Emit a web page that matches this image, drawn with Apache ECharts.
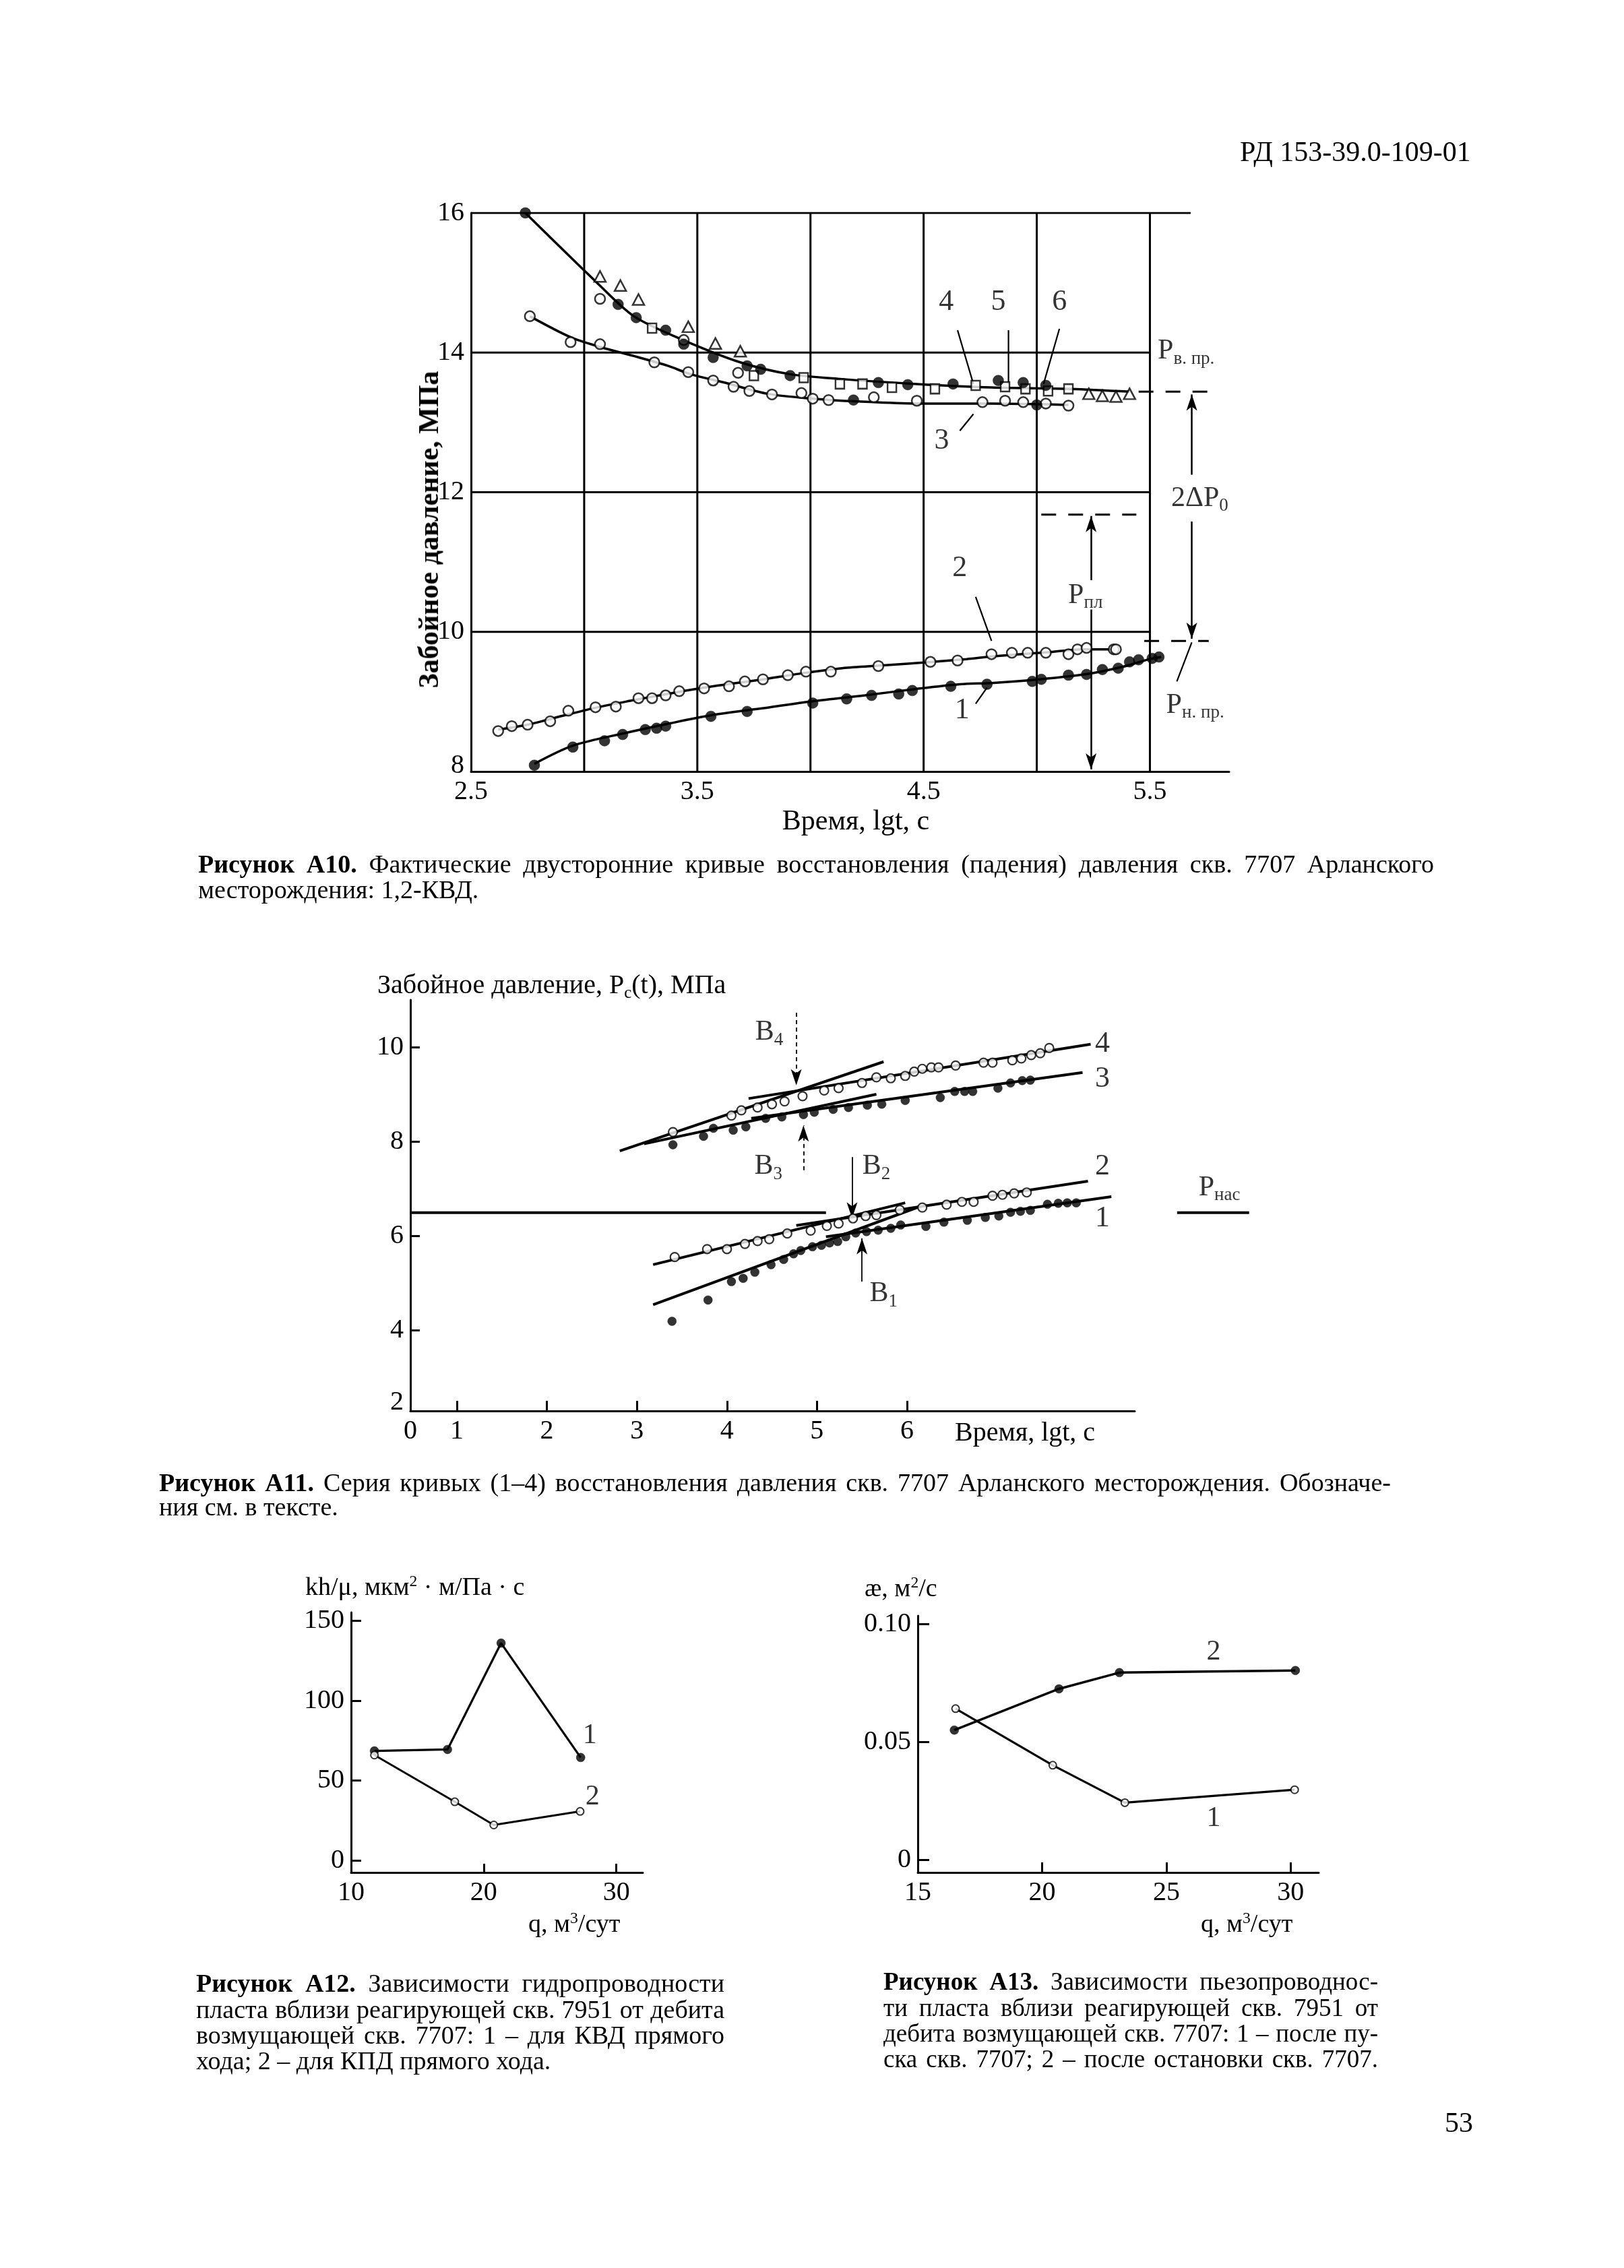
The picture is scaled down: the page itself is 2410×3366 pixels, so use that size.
<!DOCTYPE html>
<html lang="ru">
<head>
<meta charset="utf-8">
<title>РД 153-39.0-109-01 — Рисунки А10–А13</title>
<script src="https://cdn.jsdelivr.net/npm/echarts@6.0.0/dist/echarts.min.js"></script>
<style>
html,body{margin:0;padding:0;background:#fff;}
#page{position:relative;width:2410px;height:3366px;overflow:hidden;background:#fff;}
#chart{position:absolute;left:0;top:0;width:2410px;height:3366px;}
.t{position:absolute;font-family:"Liberation Serif","Times New Roman",serif;color:#000;white-space:nowrap;line-height:1;}
.c{transform:translate(-50%,-50%);}
.l{transform:translateY(-50%);}
.j{white-space:normal;text-align:justify;text-align-last:justify;}
.cap{font-size:38px;}
.cap2{font-size:37px;}
.nw{white-space:nowrap;}
sub,sup{font-size:0.62em;line-height:0;}
sub{vertical-align:-0.3em;}
sup{vertical-align:0.55em;}
</style>
</head>
<body>
<div id="page">
<div id="chart"></div>

<div class="t l" style="left:1840px;top:225px;font-size:42px">РД 153-39.0-109-01</div>

<div class="t c" style="left:636px;top:786px;font-size:42px;font-weight:bold;transform:translate(-50%,-50%) rotate(-90deg)">Забойное давление, МПа</div>
<div class="t c" style="left:1270px;top:1217px;font-size:42px">Время, lgt, с</div>

<div class="t l cap j" style="left:294px;top:1282px;width:1834px"><b>Рисунок А10.</b> Фактические двусторонние кривые восстановления (падения) давления скв. 7707 Арланского</div>
<div class="t l cap" style="left:294px;top:1320px">месторождения: 1,2-КВД.</div>

<div class="t l" style="left:560px;top:1461px;font-size:40px">Забойное давление, P<sub>c</sub>(t), МПа</div>
<div class="t l" style="left:1417px;top:2125px;font-size:40px">Время, lgt, с</div>

<div class="t l cap j" style="left:236px;top:2200px;width:1828px"><b>Рисунок А11.</b> Серия кривых (1–4) восстановления давления скв. 7707 Арланского месторождения. <span class="nw">Обозначе-</span></div>
<div class="t l cap" style="left:236px;top:2236px">ния см. в тексте.</div>

<div class="t l" style="left:453px;top:2354px;font-size:38px">kh/μ, мкм<sup>2</sup> · м/Па · с</div>
<div class="t l" style="left:784px;top:2854px;font-size:38px">q, м<sup>3</sup>/сут</div>
<div class="t l" style="left:1283px;top:2356px;font-size:38px">æ, м<sup>2</sup>/с</div>
<div class="t l" style="left:1782px;top:2854px;font-size:38px">q, м<sup>3</sup>/сут</div>

<div class="t l cap j" style="left:291px;top:2943px;width:784px"><b>Рисунок А12.</b> Зависимости гидропроводности</div>
<div class="t l cap j" style="left:291px;top:2982px;width:784px">пласта вблизи реагирующей скв. 7951 от дебита</div>
<div class="t l cap j" style="left:291px;top:3020px;width:784px">возмущающей скв. 7707: 1 – для КВД прямого</div>
<div class="t l cap" style="left:291px;top:3058px">хода; 2 – для КПД прямого хода.</div>

<div class="t l cap2 j" style="left:1311px;top:2940px;width:734px"><b>Рисунок А13.</b> Зависимости <span class="nw">пьезопроводнос-</span></div>
<div class="t l cap2 j" style="left:1311px;top:2979px;width:734px">ти пласта вблизи реагирующей скв. 7951 от</div>
<div class="t l cap2 j" style="left:1311px;top:3017px;width:734px">дебита возмущающей скв. 7707: 1 – после <span class="nw">пу-</span></div>
<div class="t l cap2 j" style="left:1311px;top:3055px;width:734px">ска скв. 7707; 2 – после остановки скв. 7707.</div>

<div class="t l" style="left:2144px;top:3150px;font-size:42px">53</div>
</div>

<script>
// ================= DATA =================
// ---- Рисунок А10 ----
const a10XLabels = [2.5, 3.5, 4.5, 5.5];
const a10YLabels = [8.08, 10, 12, 14, 16];
const a10GridX = [3.0, 3.5, 4.0, 4.5, 5.0, 5.5];
const a10GridY = [10, 12, 14];

// curve 1 (filled circles, lower)
const a10Filled1 = [[2.78,8.09],[2.95,8.35],[3.09,8.44],[3.17,8.53],[3.27,8.60],[3.32,8.62],[3.36,8.65],[3.56,8.79],[3.72,8.86],[4.01,8.98],[4.16,9.04],[4.27,9.09],[4.39,9.11],[4.45,9.16],[4.62,9.22],[4.78,9.25],[4.98,9.29],[5.02,9.32],[5.14,9.38],[5.22,9.39],[5.29,9.46],[5.36,9.48],[5.41,9.57],[5.45,9.60],[5.51,9.62],[5.54,9.64]];
const a10Line1 = [[2.78,8.11],[2.95,8.37],[3.18,8.55],[3.38,8.69],[3.57,8.81],[3.82,8.92],[4.02,9.01],[4.24,9.09],[4.46,9.18],[4.66,9.25],[4.81,9.27],[5.01,9.32],[5.23,9.40],[5.38,9.50],[5.50,9.61],[5.55,9.64]];
// curve 2 (open circles, lower)
const a10Open2 = [[2.62,8.58],[2.68,8.65],[2.75,8.67],[2.85,8.72],[2.93,8.87],[3.05,8.92],[3.14,8.93],[3.24,9.05],[3.30,9.05],[3.36,9.09],[3.42,9.15],[3.53,9.19],[3.64,9.22],[3.71,9.29],[3.79,9.32],[3.90,9.38],[3.98,9.43],[4.09,9.43],[4.30,9.51],[4.53,9.57],[4.65,9.59],[4.80,9.68],[4.89,9.70],[4.96,9.70],[5.04,9.70],[5.14,9.68],[5.18,9.75],[5.22,9.77],[5.34,9.75],[5.35,9.75]];
const a10Line2 = [[2.62,8.60],[2.75,8.67],[2.92,8.81],[3.06,8.92],[3.20,9.01],[3.40,9.13],[3.57,9.22],[3.77,9.31],[3.97,9.41],[4.14,9.48],[4.32,9.52],[4.54,9.57],[4.69,9.61],[4.81,9.65],[5.06,9.71],[5.20,9.75],[5.35,9.75]];
// curve 3 (open circles, upper)
const a10Open3 = [[2.76,14.52],[2.94,14.15],[3.07,14.12],[3.31,13.86],[3.46,13.72],[3.57,13.60],[3.66,13.51],[3.73,13.45],[3.83,13.40],[3.96,13.42],[4.01,13.34],[4.08,13.32],[4.28,13.36],[4.47,13.31],[4.76,13.29],[4.86,13.31],[4.94,13.29],[5.04,13.27],[5.14,13.24],[3.07,14.77],[3.44,14.18],[3.68,13.71]];
const a10Line3 = [[2.76,14.52],[2.94,14.22],[3.07,14.08],[3.22,13.95],[3.37,13.81],[3.47,13.69],[3.62,13.57],[3.81,13.41],[4.01,13.34],[4.21,13.30],[4.47,13.27],[4.80,13.27],[5.05,13.26],[5.14,13.25]];
// curves 4-6 (upper: filled circles, squares, triangles)
const a10FilledUp = [[2.74,16.0],[3.15,14.69],[3.23,14.50],[3.36,14.32],[3.44,14.12],[3.57,13.93],[3.72,13.81],[3.78,13.76],[3.91,13.67],[4.19,13.32],[4.30,13.57],[4.43,13.54],[4.63,13.55],[4.83,13.60],[4.94,13.57],[5.00,13.25],[5.04,13.53]];
const a10Squares = [[3.30,14.35],[3.75,13.67],[3.97,13.64],[4.13,13.55],[4.23,13.55],[4.36,13.50],[4.55,13.48],[4.73,13.53],[4.86,13.51],[4.95,13.48],[5.05,13.45],[5.14,13.48]];
const a10Triangles = [[3.07,15.09],[3.16,14.96],[3.24,14.76],[3.46,14.37],[3.58,14.13],[3.69,14.02],[5.23,13.41],[5.29,13.38],[5.35,13.37],[5.41,13.41]];
const a10LineUpper = [[2.74,16.0],[3.06,14.99],[3.22,14.52],[3.43,14.19],[3.69,13.86],[3.91,13.69],[4.14,13.62],[4.47,13.55],[4.80,13.50],[5.15,13.48],[5.41,13.44]];
// annotation texts
const a10CurveNames = [[4.60,14.72,'4'],[4.83,14.72,'5'],[5.10,14.72,'6'],[4.58,12.73,'3'],[4.66,10.91,'2'],[4.67,8.87,'1']];
const a10Leaders = [[[4.65,14.32],[4.72,13.55]],[[4.875,14.32],[4.875,13.55]],[[5.10,14.34],[5.03,13.55]],[[4.66,12.88],[4.72,13.12]],[[4.73,10.50],[4.80,9.87]],[[4.73,8.97],[4.78,9.20]]];
const a10Symbols = [[5.66,14.02,'{p|P}{s|в. пр.}'],[5.72,11.91,'{p|2ΔP}{s|0}'],[5.215,10.52,'{p|P}{s|пл}'],[5.70,8.95,'{p|P}{s|н. пр.}']];
const a10Dashed = [[[5.45,13.44],[5.76,13.44]],[[5.02,11.68],[5.44,11.68]],[[5.475,9.87],[5.76,9.87]]];

// ---- Рисунок А11 ----
const a11XLabels = [0.484, 1, 2, 3, 4, 5, 6];
const a11XTicks = [1, 2, 3, 4, 5, 6];
const a11YLabels = [2.47, 4, 6, 8, 10];
const a11YTicks = [4, 6, 8, 10];
const a11C4 = [[3.40,8.20],[4.05,8.55],[4.16,8.66],[4.34,8.72],[4.50,8.79],[4.64,8.85],[4.84,8.96],[5.08,9.08],[5.24,9.13],[5.50,9.24],[5.66,9.36],[5.82,9.34],[5.98,9.39],[6.08,9.48],[6.17,9.54],[6.27,9.57],[6.35,9.57],[6.54,9.61],[6.85,9.67],[6.95,9.67],[7.17,9.72],[7.27,9.76],[7.38,9.83],[7.48,9.87],[7.58,9.98]];
const a11C3 = [[3.40,7.93],[3.74,8.11],[3.85,8.28],[4.07,8.24],[4.21,8.31],[4.43,8.49],[4.61,8.52],[4.85,8.57],[4.97,8.62],[5.18,8.68],[5.35,8.72],[5.56,8.77],[5.72,8.79],[5.98,8.87],[6.37,8.93],[6.53,9.06],[6.64,9.06],[6.73,9.06],[7.01,9.13],[7.15,9.24],[7.28,9.29],[7.37,9.30]];
const a11C2 = [[3.42,5.55],[3.78,5.72],[4.00,5.72],[4.20,5.83],[4.34,5.89],[4.47,5.93],[4.67,6.05],[4.93,6.11],[5.11,6.21],[5.24,6.26],[5.40,6.37],[5.54,6.42],[5.66,6.44],[5.92,6.55],[6.17,6.60],[6.44,6.66],[6.61,6.72],[6.74,6.72],[6.95,6.85],[7.06,6.87],[7.19,6.90],[7.33,6.92]];
const a11C1 = [[3.39,4.19],[3.79,4.64],[4.05,5.03],[4.18,5.10],[4.31,5.23],[4.49,5.39],[4.63,5.50],[4.74,5.62],[4.82,5.69],[4.95,5.77],[5.05,5.80],[5.14,5.85],[5.23,5.88],[5.32,5.98],[5.43,6.06],[5.55,6.09],[5.68,6.12],[5.82,6.16],[5.93,6.23],[6.21,6.20],[6.41,6.29],[6.67,6.33],[6.87,6.39],[7.02,6.42],[7.15,6.50],[7.26,6.52],[7.37,6.54],[7.56,6.67],[7.68,6.69],[7.78,6.70],[7.88,6.70]];
const a11Tangents = [
  [[2.81,7.80],[5.74,9.69]], [[4.24,8.91],[8.04,10.06]],
  [[3.08,7.95],[5.66,9.00]], [[4.27,8.49],[7.95,9.46]],
  [[3.18,5.39],[5.98,6.70]], [[4.77,6.22],[8.01,7.16]],
  [[3.18,4.54],[6.14,6.62]], [[5.10,5.98],[8.27,6.83]]
];
const a11Psat = [[0.484,6.49],[5.10,6.49]];
const a11PsatKey = [[9.0,6.49],[9.8,6.49]];
const a11CurveNames = [[8.17,10.06,'4'],[8.17,9.32,'3'],[8.17,7.46,'2'],[8.17,6.37,'1'],[9.47,7.02,'{p|P}{s|нас}']];
const a11BNames = [[4.47,10.31,'{p|B}{s|4}'],[4.46,7.47,'{p|B}{s|3}'],[5.66,7.47,'{p|B}{s|2}'],[5.74,4.77,'{p|B}{s|1}']];
const a11BArrowsDashed = [[[4.77,10.73],[4.77,9.19]],[[4.85,7.39],[4.85,8.34]]];
const a11BArrowsSolid = [[[5.39,7.67],[5.39,6.37]],[[5.50,5.03],[5.50,5.95]]];

// ---- Рисунок А12 ----
const a12XLabels = [10, 20, 30];
const a12XTicks = [20, 30];
const a12YLabels = [0, 50, 100, 150];
const a12Q1 = [11.76, 17.27, 21.31, 27.31];
const a12K1 = [68.6, 69.5, 136, 64.5];
const a12Q2 = [11.76, 17.82, 20.76, 27.27];
const a12K2 = [66, 36.8, 22.3, 30.8];
const a12Names = [[28.0,78,'1'],[28.2,40,'2']];

// ---- Рисунок А13 ----
const a13XLabels = [15, 20, 25, 30];
const a13XTicks = [20, 25, 30];
const a13YLabels = [0, 0.05, 0.10];
const a13Q1 = [16.52, 20.43, 23.33, 30.16];
const a13A1 = [0.0642, 0.0402, 0.0243, 0.0298];
const a13Q2 = [16.47, 20.68, 23.11, 30.19];
const a13A2 = [0.0551, 0.0726, 0.0795, 0.0804];
const a13Names = [[26.9,0.0883,'2'],[26.9,0.0177,'1']];

// ================= CHART =================
const FONT = '"Liberation Serif","Times New Roman",serif';
const zip = (a, b) => a.map((v, i) => [v, b[i]]);

const RICH = {
  p: {fontFamily: FONT, fontSize: 42, lineHeight: 50, verticalAlign: 'middle', color: '#000'},
  s: {fontFamily: FONT, fontSize: 27, lineHeight: 50, verticalAlign: 'bottom', color: '#000'}
};

function valAxis(gi, min, max, labels, ticks, fmt, tickLen) {
  return {
    type: 'value', gridIndex: gi, min: min, max: max,
    axisLine: {show: true, onZero: false, lineStyle: {color: '#000', width: 3}},
    axisTick: ticks ? {show: true, inside: true, length: tickLen || 14, customValues: ticks, lineStyle: {color: '#000', width: 3}} : {show: false},
    axisLabel: {show: true, customValues: labels, formatter: fmt, color: '#000', fontFamily: FONT, fontSize: 40, margin: 10},
    splitLine: {show: false}
  };
}
function line(ai, data, w, extra) {
  return Object.assign({type: 'line', xAxisIndex: ai, yAxisIndex: ai, data: data, symbol: 'none', showSymbol: false,
    lineStyle: {color: '#000', width: w || 3}, itemStyle: {color: '#000'}, silent: true, z: 2, animation: false}, extra || {});
}
function marks(ai, data, shape, size, filled, bw) {
  return {type: 'scatter', xAxisIndex: ai, yAxisIndex: ai, data: data, symbol: shape, symbolSize: size,
    itemStyle: filled ? {color: '#000', borderColor: '#000', borderWidth: 0.5} : {color: '#fff', borderColor: '#000', borderWidth: bw || 2.5},
    silent: true, z: 5, animation: false};
}
function texts(ai, items, size, extra) {
  return Object.assign({type: 'scatter', xAxisIndex: ai, yAxisIndex: ai, clip: false,
    data: items.map(d => ({name: d[2], value: [d[0], d[1]]})),
    symbolSize: 1, itemStyle: {color: 'transparent'}, silent: true, z: 6, animation: false,
    label: {show: true, position: 'inside', formatter: p => p.name, color: '#000', fontFamily: FONT, fontSize: size || 40, rich: RICH}}, extra || {});
}
function arrow(p1, p2, atStart, atEnd, style) {
  const a = {coord: p1, lineStyle: style};
  const b = {coord: p2};
  if (atStart) { a.symbol = 'arrow'; a.symbolSize = [12, 24]; }
  if (atEnd) { b.symbol = 'arrow'; b.symbolSize = [12, 24]; }
  return [a, b];
}
function arrowMark(list) {
  return {silent: true, animation: false, symbol: ['none', 'none'], label: {show: false},
    lineStyle: {color: '#000', width: 2.5, type: 'solid'}, emphasis: {disabled: true}, data: list};
}

const series = [];

// ---------- A10 ----------
a10GridX.forEach(x => series.push(line(0, [[x, 8], [x, 16]], 3, {z: 1})));
a10GridY.forEach(y => series.push(line(0, [[2.5, y], [5.5, y]], 3, {z: 1})));
series.push(line(0, [[2.5, 16], [5.68, 16]], 3, {z: 1}));
series.push(line(0, a10Line1, 3.5, {smooth: 0.3}));
series.push(line(0, a10Line2, 3.5, {smooth: 0.3}));
series.push(line(0, a10Line3, 3.5, {smooth: 0.3}));
series.push(line(0, a10LineUpper, 3.5, {smooth: 0.3}));
a10Leaders.forEach(s => series.push(line(0, s, 2.2, {z: 3})));
a10Dashed.forEach(s => series.push(line(0, s, 3, {z: 3, lineStyle: {color: '#000', width: 3, type: [22, 18]}})));
series.push(marks(0, a10Filled1, 'circle', 16, true));
series.push(marks(0, a10Open2, 'circle', 15, false));
series.push(marks(0, a10Open3, 'circle', 15, false));
series.push(marks(0, a10Squares, 'rect', [13, 14], false));
series.push(marks(0, a10Triangles, 'triangle', [17, 16], false));
series.push(marks(0, a10FilledUp, 'circle', 16, true));
series.push(texts(0, a10CurveNames, 44));
const a10Arrows = texts(0, a10Symbols, 40);
a10Arrows.markLine = arrowMark([
  arrow([5.685, 13.40], [5.685, 12.25], true, false),
  arrow([5.685, 11.58], [5.685, 9.90], false, true),
  arrow([5.24, 11.66], [5.24, 10.74], true, false),
  arrow([5.24, 10.32], [5.24, 8.03], false, true),
  arrow([5.685, 9.85], [5.619, 9.29], false, false, {color: '#000', width: 2.2})
]);
series.push(a10Arrows);

// ---------- A11 ----------
series.push(line(1, a11Psat, 4));
a11Tangents.forEach(s => series.push(line(1, s, 4)));
series.push(marks(1, a11C4, 'circle', 13, false, 2.2));
series.push(marks(1, a11C3, 'circle', 13, true));
series.push(marks(1, a11C2, 'circle', 13, false, 2.2));
series.push(marks(1, a11C1, 'circle', 13, true));
series.push(texts(1, a11CurveNames, 44));
const a11B = texts(1, a11BNames, 40);
a11B.markLine = arrowMark(
  a11BArrowsDashed.map(s => arrow(s[0], s[1], false, true, {color: '#000', width: 1.8, type: [6, 5]}))
  .concat(a11BArrowsSolid.map(s => arrow(s[0], s[1], false, true, {color: '#000', width: 1.8})))
);
series.push(a11B);

// ---------- A12 ----------
series.push(line(2, zip(a12Q1, a12K1), 3.2));
series.push(marks(2, zip(a12Q1, a12K1), 'circle', 13, true));
series.push(line(2, zip(a12Q2, a12K2), 3));
series.push(marks(2, zip(a12Q2, a12K2), 'circle', 11, false, 2));
series.push(texts(2, a12Names, 42));

// ---------- A13 ----------
series.push(line(3, zip(a13Q2, a13A2), 3.5));
series.push(marks(3, zip(a13Q2, a13A2), 'circle', 13, true));
series.push(line(3, zip(a13Q1, a13A1), 3.2));
series.push(marks(3, zip(a13Q1, a13A1), 'circle', 11, false, 2));
series.push(texts(3, a13Names, 42));

const option = {
  animation: false,
  backgroundColor: 'transparent',
  textStyle: {fontFamily: FONT, color: '#000'},
  grid: [
    {left: 699, top: 316, width: 1125, height: 829},
    {left: 609, top: 1484, width: 1075, height: 610},
    {left: 521, top: 2393, width: 433, height: 386},
    {left: 1362, top: 2398, width: 595, height: 381}
  ],
  xAxis: [
    valAxis(0, 2.5, 5.85, a10XLabels, null, v => v.toFixed(1)),
    valAxis(1, 0.484, 8.53, a11XLabels, a11XTicks, v => (v < 0.9 ? '0' : String(Math.round(v))), 15),
    valAxis(2, 10, 32, a12XLabels, a12XTicks, v => String(v), 13),
    valAxis(3, 15, 31.13, a13XLabels, a13XTicks, v => String(v), 15)
  ],
  yAxis: [
    valAxis(0, 8, 16, a10YLabels, null, v => String(Math.round(v))),
    valAxis(1, 2.29, 11, a11YLabels, a11YTicks, v => (v < 3 ? '2' : String(v)), 14),
    valAxis(2, -7.4, 155.2, a12YLabels, a12YLabels, v => String(v), 15),
    valAxis(3, -0.0053, 0.1036, a13YLabels, a13YLabels, v => (v === 0 ? '0' : v.toFixed(2)), 17)
  ],
  series: series
};

const chart = echarts.init(document.getElementById('chart'), null, {renderer: 'canvas', width: 2410, height: 3366});
chart.setOption(option);

// The short "Pнас" key segment lies to the right of the A11 axis; place it through the axis scale.
const k1 = chart.convertToPixel({gridIndex: 1}, a11PsatKey[0]);
const k2 = chart.convertToPixel({gridIndex: 1}, a11PsatKey[1]);
chart.setOption({graphic: [{type: 'line', silent: true, z: 10,
  shape: {x1: k1[0], y1: k1[1], x2: k2[0], y2: k2[1]},
  style: {stroke: '#000', lineWidth: 4}}]});
</script>
</body>
</html>
